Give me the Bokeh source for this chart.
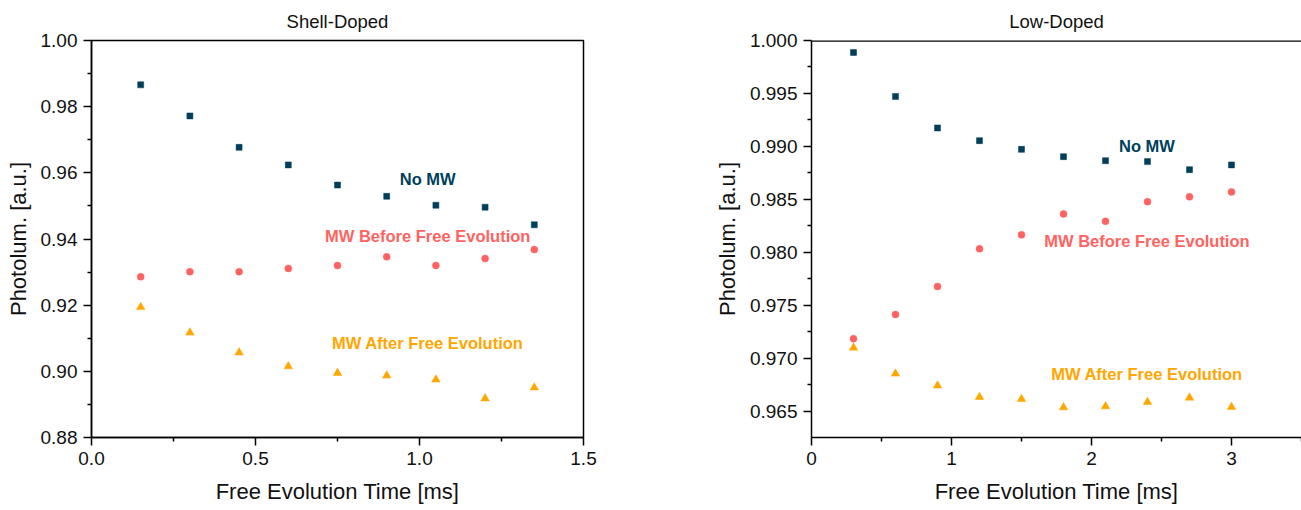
from bokeh.plotting import figure
from bokeh.layouts import row
from bokeh.models import Range1d, FixedTicker, Span, PrintfTickFormatter
from bokeh.embed import file_html
from bokeh.resources import INLINE
from bokeh.core.properties import value

# ---------------- data ----------------
sd_time = [0.15, 0.30, 0.45, 0.60, 0.75, 0.90, 1.05, 1.20, 1.35]
sd_no_mw = [0.9866, 0.9772, 0.9677, 0.9624, 0.9563, 0.9529, 0.9502, 0.9496, 0.9443]
sd_mw_before = [0.9286, 0.9301, 0.9301, 0.9311, 0.9320, 0.9346, 0.9320, 0.9341, 0.9368]
sd_mw_after = [0.9194, 0.9117, 0.9057, 0.9015, 0.8995, 0.8987, 0.8975, 0.8918, 0.8951]

ld_time = [0.3, 0.6, 0.9, 1.2, 1.5, 1.8, 2.1, 2.4, 2.7, 3.0]
ld_no_mw = [0.99887, 0.99472, 0.99174, 0.99054, 0.98972, 0.98903, 0.98865, 0.98856, 0.98780, 0.98825]
ld_mw_before = [0.97183, 0.97412, 0.97676, 0.98032, 0.98164, 0.98362, 0.98292, 0.98478, 0.98523, 0.98570]
ld_mw_after = [0.97098, 0.96853, 0.96740, 0.96632, 0.96613, 0.96535, 0.96544, 0.96585, 0.96626, 0.96538]

series_names = ["No MW", "MW Before Free Evolution", "MW After Free Evolution"]
series_colors = ["#003f5c", "#ff6361", "#ffa600"]
panel_titles = ["Shell-Doped", "Low-Doped"]

sd_x_ticks = [0.0, 0.5, 1.0, 1.5]
sd_x_labels = ["0.0", "0.5", "1.0", "1.5"]
sd_y_ticks = [0.88, 0.90, 0.92, 0.94, 0.96, 0.98, 1.00]
sd_y_labels = ["0.88", "0.90", "0.92", "0.94", "0.96", "0.98", "1.00"]

ld_x_ticks = [0, 1, 2, 3]
ld_x_labels = ["0", "1", "2", "3"]
ld_y_ticks = [0.965, 0.970, 0.975, 0.980, 0.985, 0.990, 0.995, 1.000]
ld_y_labels = ["0.965", "0.970", "0.975", "0.980", "0.985", "0.990", "0.995", "1.000"]

# annotation positions (data coords)
sd_label_x = [1.025, 1.025, 1.025]
sd_label_y = [0.9582, 0.9408, 0.9087]
ld_label_x = [2.396, 2.396, 2.396]
ld_label_y = [0.99007, 0.98110, 0.96846]

FONT = "Liberation Sans"


def style(p, xt, xl, yt, yl, xminor, yminor, xfmt, yfmt):
    p.xgrid.visible = False
    p.ygrid.visible = False
    p.background_fill_color = "white"
    p.border_fill_color = "white"
    p.xaxis.ticker = FixedTicker(ticks=xt, minor_ticks=xminor)
    p.yaxis.ticker = FixedTicker(ticks=yt, minor_ticks=yminor)
    p.xaxis.formatter = PrintfTickFormatter(format=xfmt)
    p.yaxis.formatter = PrintfTickFormatter(format=yfmt)
    p.xaxis.major_label_overrides = {float(t): l for t, l in zip(xt, xl)}
    p.yaxis.major_label_overrides = {float(t): l for t, l in zip(yt, yl)}
    for ax in (p.xaxis[0], p.yaxis[0]):
        ax.axis_line_color = "black"
        ax.axis_line_width = 1.5
        ax.major_tick_line_color = "black"
        ax.major_tick_line_width = 1.5
        ax.minor_tick_line_color = "black"
        ax.minor_tick_line_width = 1.5
        ax.major_tick_in = 0
        ax.major_tick_out = 8
        ax.minor_tick_in = 0
        ax.minor_tick_out = 4
        ax.major_label_text_font = FONT
        ax.major_label_text_font_size = "19px"
        ax.major_label_text_color = "#111111"
        ax.major_label_standoff = 6
        ax.axis_label_text_font = FONT
        ax.axis_label_text_font_size = "22px"
        ax.axis_label_text_font_style = "normal"
        ax.axis_label_text_color = "#111111"
    p.xaxis[0].axis_label_standoff = 11
    p.yaxis[0].axis_label_standoff = 7
    p.title.align = "center"
    p.title.text_font = FONT
    p.title.text_font_size = "18.5px"
    p.title.text_font_style = "normal"
    p.title.text_color = "#111111"
    p.title.standoff = 17


def draw(p, t, s1, s2, s3, lx, ly):
    p.scatter(t, s1, marker="square", size=6, fill_color=series_colors[0],
              line_color=series_colors[0], line_width=0.5)
    p.scatter(t, s2, marker="circle", size=7, fill_color=series_colors[1],
              line_color=series_colors[1], line_width=0.5)
    p.scatter(t, s3, marker="triangle", size=8.5, fill_color=series_colors[2],
              line_color=series_colors[2], line_width=0.5)
    p.text(lx, ly, text=series_names, text_color=series_colors,
           text_font=value(FONT), text_font_size="16.5px", text_font_style="bold",
           text_align="center", text_baseline="middle")


# ---------------- left: Shell-Doped ----------------
p1 = figure(width=650, height=510, output_backend="svg", toolbar_location=None,
            x_range=Range1d(0, 1.5), y_range=Range1d(0.88, 1.00),
            min_border_left=91, min_border_right=67, min_border_top=40, min_border_bottom=73,
            title=panel_titles[0], x_axis_label="Free Evolution Time [ms]",
            y_axis_label="Photolum. [a.u.]")
style(p1, sd_x_ticks, sd_x_labels, sd_y_ticks, sd_y_labels,
      [0.25, 0.75, 1.25], [0.89, 0.91, 0.93, 0.95, 0.97, 0.99], "%.1f", "%.2f")
p1.outline_line_color = "black"
p1.outline_line_width = 1.5
p1.outline_line_alpha = 1.0
draw(p1, sd_time, sd_no_mw, sd_mw_before, sd_mw_after, sd_label_x, sd_label_y)

# ---------------- right: Low-Doped ----------------
p2 = figure(width=651, height=510, output_backend="svg", toolbar_location=None,
            x_range=Range1d(0, 3.5), y_range=Range1d(0.9625, 1.000),
            min_border_left=161, min_border_right=0, min_border_top=40, min_border_bottom=73,
            title=panel_titles[1], x_axis_label="Free Evolution Time [ms]",
            y_axis_label="Photolum. [a.u.]")
style(p2, ld_x_ticks, ld_x_labels, ld_y_ticks, ld_y_labels,
      [0.5, 1.5, 2.5, 3.5],
      [0.9675, 0.9725, 0.9775, 0.9825, 0.9875, 0.9925, 0.9975], "%d", "%.3f")
p2.outline_line_color = None
p2.add_layout(Span(location=1.0, dimension="width", line_color="black", line_width=2.5))
draw(p2, ld_time, ld_no_mw, ld_mw_before, ld_mw_after, ld_label_x, ld_label_y)

layout = row(p1, p2)
open("out.html", "w").write(file_html(layout, INLINE))
